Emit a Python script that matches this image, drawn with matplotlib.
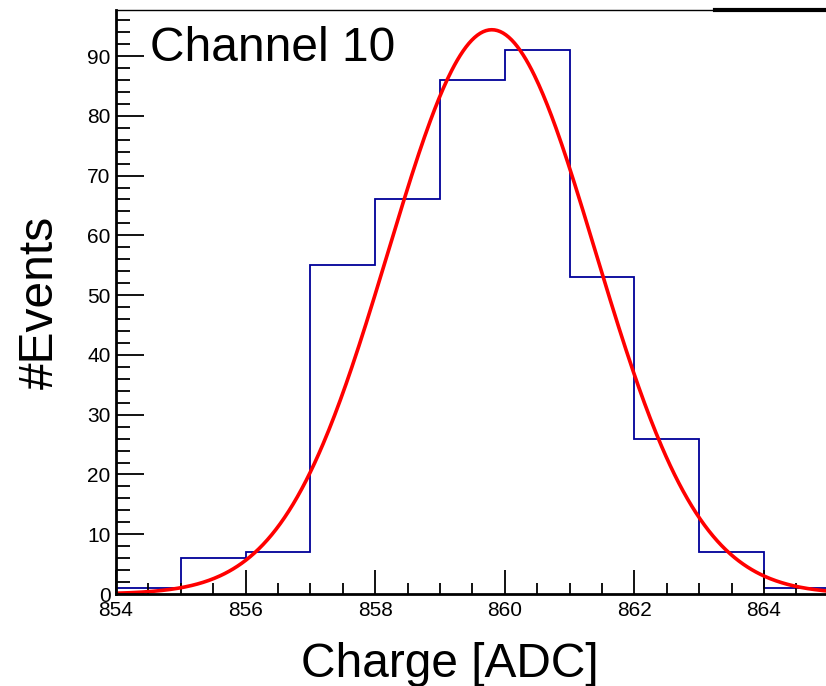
import numpy
import matplotlib
matplotlib.use("Agg")
import matplotlib.pyplot as plt
from matplotlib.ticker import MultipleLocator

plt.rcParams['font.family'] = ['Liberation Sans', 'DejaVu Sans']

# Histogram data (bin width 1 ADC)
bin_edges = [854, 855, 856, 857, 858, 859, 860, 861, 862, 863, 864, 865]
counts = [1, 6, 7, 55, 66, 86, 91, 53, 26, 7, 1]

# Gaussian fit parameters
fit_const = 94.4
fit_mean = 859.8
fit_sigma = 1.6

fig = plt.figure(figsize=[8.26, 6.86], dpi=100)
ax = fig.add_axes([0.1404, 0.1341, 0.863, 0.8513])

ax.stairs(counts, bin_edges, color="#000099", linewidth=1.3)

x = numpy.linspace(854, 865, 500)
y = fit_const * numpy.exp(-0.5 * ((x - fit_mean) / fit_sigma) ** 2)
ax.plot(x, y, color="red", linewidth=2.6)

ax.set_xlim(854, 865)
ax.set_ylim(0, 97.7)

ax.xaxis.set_major_locator(MultipleLocator(2))
ax.xaxis.set_minor_locator(MultipleLocator(0.5))
ax.yaxis.set_major_locator(MultipleLocator(10))
ax.yaxis.set_minor_locator(MultipleLocator(2))
ax.tick_params(which="both", direction="in", top=False, right=False, labelsize=15, width=1.3)
ax.tick_params(axis="x", which="major", length=17, pad=5)
ax.tick_params(axis="x", which="minor", length=8)
ax.tick_params(axis="y", which="major", length=20, pad=4)
ax.tick_params(axis="y", which="minor", length=10)

for side in ["left", "bottom"]:
    ax.spines[side].set_linewidth(2)
ax.spines["top"].set_linewidth(1)
ax.spines["right"].set_visible(False)

# stats box edge at top right
ax.plot([0.84, 1.0], [1.0, 1.0], transform=ax.transAxes, color="black", linewidth=3, clip_on=False)

ax.text(0.048, 0.972, "Channel 10", transform=ax.transAxes, fontsize=34.5, va="top", ha="left")

ax.set_xlabel("Charge [ADC]", fontsize=34.5)
ax.set_ylabel("#Events", fontsize=34.5)
ax.xaxis.set_label_coords(0.4686, -0.082)
ax.yaxis.set_label_coords(-0.075, 0.5)

plt.savefig("out.png", dpi=100)
